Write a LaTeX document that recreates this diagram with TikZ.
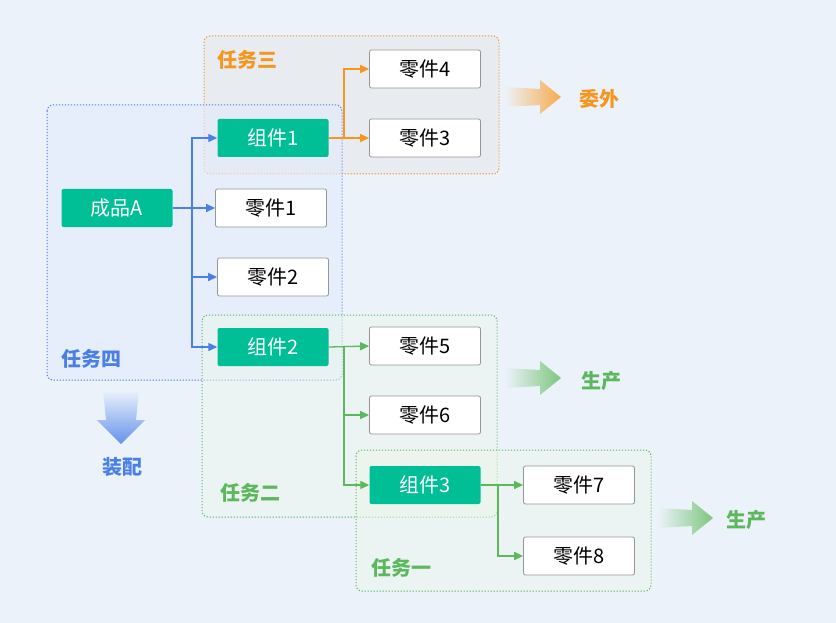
\documentclass[tikz,border=0pt]{standalone}
\usepackage{fontspec}
\setmainfont{Noto Sans CJK SC}
\usetikzlibrary{arrows.meta,shadings,fadings}
\definecolor{bg}{RGB}{236,242,250}
\definecolor{gnode}{RGB}{0,190,150}
\definecolor{cblue}{RGB}{74,127,232}
\definecolor{corange}{RGB}{245,150,30}
\definecolor{cgreen}{RGB}{92,184,92}
\definecolor{gborder}{RGB}{150,150,150}
\tikzset{
  base/.style={minimum width=111pt,minimum height=38pt,rounded corners=2pt,inner sep=0pt,font=\fontsize{20}{24}\selectfont},
  gbox/.style={base,fill=gnode,text=white},
  wbox/.style={base,fill=white,draw=gborder,line width=0.8pt,text=black},
  grp/.style={rounded corners=6pt,dash pattern=on 1.2pt off 1.8pt,line width=1pt},
  glabel/.style={font=\fontsize{20}{24}\selectfont\bfseries},
  conn/.style={line width=1.3pt,-{Triangle[length=9pt,width=8pt]}},
}
\begin{document}
\begin{tikzpicture}[x=1pt,y=-1pt]
\fill[bg] (0,0) rectangle (836,623);
\useasboundingbox (0,0) rectangle (836,623);
% groups
\filldraw[grp,draw=corange,fill=gray!20,fill opacity=0.5] (204,36) rectangle (499,174);
\filldraw[grp,draw=cblue,fill=cblue!15,fill opacity=0.6] (47,105) rectangle (342,380);
\filldraw[grp,draw=cgreen,fill=cgreen!12,fill opacity=0.5] (202,315) rectangle (497,517);
\filldraw[grp,draw=cgreen,fill=cgreen!12,fill opacity=0.5] (356,450) rectangle (651,591);
\node[glabel,text=corange] (t3) at (247,60) {任务三};
\node[glabel,text=cblue] (t4) at (91,359) {任务四};
\node[glabel,text=cgreen] (t2) at (250,493) {任务二};
\node[glabel,text=cgreen] (t1) at (401,568) {任务一};
% nodes
\node[gbox] (A) at (117,208) {成品A};
\node[gbox] (z1) at (273,138) {组件1};
\node[wbox] (p1) at (271,208) {零件1};
\node[wbox] (p2) at (273,277) {零件2};
\node[gbox] (z2) at (273,347) {组件2};
\node[wbox] (p4) at (425,69) {零件4};
\node[wbox] (p3) at (425,138) {零件3};
\node[wbox] (p5) at (425,346) {零件5};
\node[wbox] (p6) at (425,415) {零件6};
\node[gbox] (z3) at (425,485) {组件3};
\node[wbox] (p7) at (579,485) {零件7};
\node[wbox] (p8) at (579,556) {零件8};
% connectors
\coordinate (bt) at (192,208);
\draw[conn,cblue] (A.east) -- (p1.west);
\draw[conn,cblue] (bt) |- (z1.west);
\draw[conn,cblue] (bt) |- (p2.west);
\draw[conn,cblue] (bt) |- (z2.west);
\coordinate (ot) at (344,138);
\draw[conn,corange] (z1.east) -- (p3.west);
\draw[conn,corange] (ot) |- (p4.west);
\coordinate (gt) at (344,346);
\draw[conn,cgreen] (z2.east) -- (p5.west);
\draw[conn,cgreen] (gt) |- (p6.west);
\draw[conn,cgreen] (gt) |- (z3.west);
\coordinate (gt2) at (498,485);
\draw[conn,cgreen] (z3.east) -- (p7.west);
\draw[conn,cgreen] (gt2) |- (p8.west);
% big gradient arrows
\shade[left color=bg,right color=corange!80] (505,87) -- (540,89) -- (540,80) -- (561,97) -- (540,114) -- (540,105) -- (505,107) -- cycle;
\node[glabel,text=corange] (ww) at (599,99) {委外};
\shade[left color=bg,right color=cgreen!80] (505,368) -- (540,370) -- (540,361) -- (561,378) -- (540,395) -- (540,386) -- (505,388) -- cycle;
\node[glabel,text=cgreen] (sc1) at (601,381) {生产};
\shade[left color=bg,right color=cgreen!80] (658,508) -- (692,510) -- (692,501) -- (713,518) -- (692,535) -- (692,526) -- (658,528) -- cycle;
\node[glabel,text=cgreen] (sc2) at (746,520) {生产};
\shade[top color=bg,bottom color=cblue!85] (103,390) -- (106,420) -- (97,420) -- (121,444) -- (145,420) -- (136,420) -- (139,390) -- cycle;
\node[glabel,text=cblue] (zp) at (122,467) {装配};
\end{tikzpicture}
\end{document}
